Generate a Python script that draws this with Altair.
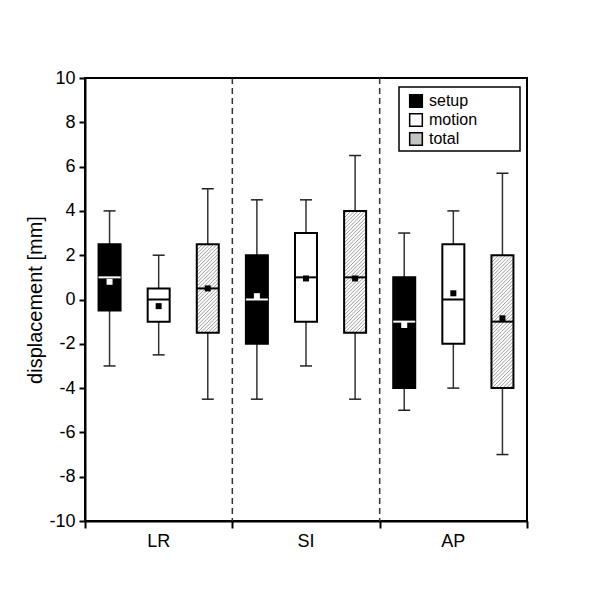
import altair as alt
import pandas as pd
import numpy as np

directions = ["LR", "SI", "AP"]
groups = ["setup", "motion", "total"]

# order: LR setup, LR motion, LR total, SI setup, ..., AP total
whisker_high = [4.0, 2.0, 5.0, 4.5, 4.5, 6.5, 3.0, 4.0, 5.7]
q3 = [2.5, 0.5, 2.5, 2.0, 3.0, 4.0, 1.0, 2.5, 2.0]
median = [1.0, 0.0, 0.5, 0.0, 1.0, 1.0, -1.0, 0.0, -1.0]
q1 = [-0.5, -1.0, -1.5, -2.0, -1.0, -1.5, -4.0, -2.0, -4.0]
whisker_low = [-3.0, -2.5, -4.5, -4.5, -3.0, -4.5, -5.0, -4.0, -7.0]
mean = [0.8, -0.3, 0.5, 0.15, 0.95, 0.95, -1.15, 0.28, -0.85]

W, H = 442, 443
XMAX = 9
x_px = W / XMAX
y_px = H / 20.0
box_half = 11 / x_px
cap_half = 6 / x_px

rows = []
for i in range(9):
    g = groups[i % 3]
    rows.append(dict(
        pos=i + 0.5, group=g, direction=directions[i // 3],
        wl=whisker_low[i], wh=whisker_high[i], q1=q1[i], q3=q3[i],
        med=median[i], mean=mean[i],
        bl=i + 0.5 - box_half, br=i + 0.5 + box_half,
        cl=i + 0.5 - cap_half, cr=i + 0.5 + cap_half,
        box_fill="black" if g == "setup" else "white",
        med_color="white" if g == "setup" else "black",
        mean_color="white" if g == "setup" else "black",
    ))
df = pd.DataFrame(rows)

# hatch lines for 'total' boxes (45 degree in pixel space), derived from box data
slope = x_px / y_px
step = 3.6 / y_px
hatch = []
for r in rows:
    if r["group"] != "total":
        continue
    w = r["br"] - r["bl"]
    c = r["q1"] - slope * w
    while c < r["q3"]:
        xs = max(0.0, (r["q1"] - c) / slope)
        xe = min(w, (r["q3"] - c) / slope)
        if xe > xs:
            hatch.append(dict(x=r["bl"] + xs, x2=r["bl"] + xe,
                              y=c + slope * xs, y2=c + slope * xe))
        c += step
hdf = pd.DataFrame(hatch)

xs_ = alt.Scale(domain=[0, XMAX], nice=False, zero=False)
ys_ = alt.Scale(domain=[-10, 10], nice=False, zero=False)

xaxis = alt.Axis(values=[0, 3, 6, 9], labels=False, tickSize=7, tickWidth=2,
                 tickColor="black", domainColor="black", domainWidth=2,
                 grid=False, title=None)
yaxis = alt.Axis(values=list(range(-10, 11, 2)), tickSize=6, tickWidth=2,
                 tickColor="black", domainColor="black", domainWidth=2,
                 grid=False, labelFontSize=18, labelColor="black",
                 labelExpr="'' + datum.value",
                 labelPadding=4, title="displacement [mm]", titleFontSize=20,
                 titleFontWeight="normal", titleColor="black", titlePadding=3)

base = alt.Chart(df)

dividers = alt.Chart(pd.DataFrame({"x": [3, 6]})).mark_rule(
    strokeDash=[6, 4], color="#333", strokeWidth=1.5
).encode(x=alt.X("x:Q", scale=xs_, axis=xaxis))

whiskers = base.mark_rule(color="#333", strokeWidth=1.5).encode(
    x=alt.X("pos:Q", scale=xs_, axis=xaxis),
    y=alt.Y("wl:Q", scale=ys_, axis=yaxis), y2="wh:Q")

cap_hi = base.mark_rule(color="#222", strokeWidth=1.5).encode(
    x=alt.X("cl:Q", scale=xs_), x2="cr:Q", y=alt.Y("wh:Q", scale=ys_))
cap_lo = base.mark_rule(color="#222", strokeWidth=1.5).encode(
    x=alt.X("cl:Q", scale=xs_), x2="cr:Q", y=alt.Y("wl:Q", scale=ys_))

boxes = base.mark_rect(strokeWidth=0).encode(
    x=alt.X("bl:Q", scale=xs_), x2="br:Q",
    y=alt.Y("q1:Q", scale=ys_), y2="q3:Q",
    fill=alt.Fill("box_fill:N", scale=None))

hatch_layer = alt.Chart(hdf).mark_rule(color="#999999", strokeWidth=1).encode(
    x=alt.X("x:Q", scale=xs_), x2="x2:Q",
    y=alt.Y("y:Q", scale=ys_), y2="y2:Q")

outlines = base.mark_rect(fillOpacity=0, stroke="black", strokeWidth=2).encode(
    x=alt.X("bl:Q", scale=xs_), x2="br:Q",
    y=alt.Y("q1:Q", scale=ys_), y2="q3:Q")

medians = base.mark_rule(strokeWidth=2).encode(
    x=alt.X("bl:Q", scale=xs_), x2="br:Q",
    y=alt.Y("med:Q", scale=ys_),
    color=alt.Color("med_color:N", scale=None))

means = base.mark_square(size=36, opacity=1).encode(
    x=alt.X("pos:Q", scale=xs_), y=alt.Y("mean:Q", scale=ys_),
    color=alt.Color("mean_color:N", scale=None))

# legend frame (decoration)
legend_frame = alt.Chart(pd.DataFrame({"a": [0]})).mark_rect(
    fill="white", stroke="black", strokeWidth=1.5
).encode(x=alt.value(314), x2=alt.value(435), y=alt.value(9), y2=alt.value(73))

legend_layer = base.mark_point(shape="square", filled=True, opacity=0).encode(
    x=alt.X("pos:Q", scale=xs_), y=alt.Y("med:Q", scale=ys_),
    fill=alt.Fill("group:N",
                  scale=alt.Scale(domain=groups, range=["black", "white", "#c4c4c4"]),
                  legend=alt.Legend(title=None, orient="none", legendX=314, legendY=6,
                                    symbolType="square", symbolSize=160,
                                    symbolStrokeColor="black", symbolStrokeWidth=1.5,
                                    symbolOpacity=1, labelFontSize=16,
                                    labelColor="black", labelOffset=5,
                                    rowPadding=-1, padding=9)))

labels = alt.Chart(pd.DataFrame({"x": [1.5, 4.5, 7.5], "y": [-10] * 3,
                                 "t": directions})).mark_text(
    dy=21, baseline="middle", fontSize=18, color="black"
).encode(x=alt.X("x:Q", scale=xs_), y=alt.Y("y:Q", scale=ys_), text="t:N")

chart = alt.layer(
    dividers, whiskers, cap_hi, cap_lo, boxes, hatch_layer, outlines,
    medians, means, legend_frame, legend_layer, labels
).properties(
    width=W, height=H,
    autosize=alt.AutoSizeParams(type="none"),
    padding={"left": 77, "top": 70, "right": 50, "bottom": 60},
).configure(
    font="Liberation Sans", background="white"
).configure_view(stroke="black", strokeWidth=2)

chart.save("out.html", embed_options={"renderer": "svg", "actions": False})
